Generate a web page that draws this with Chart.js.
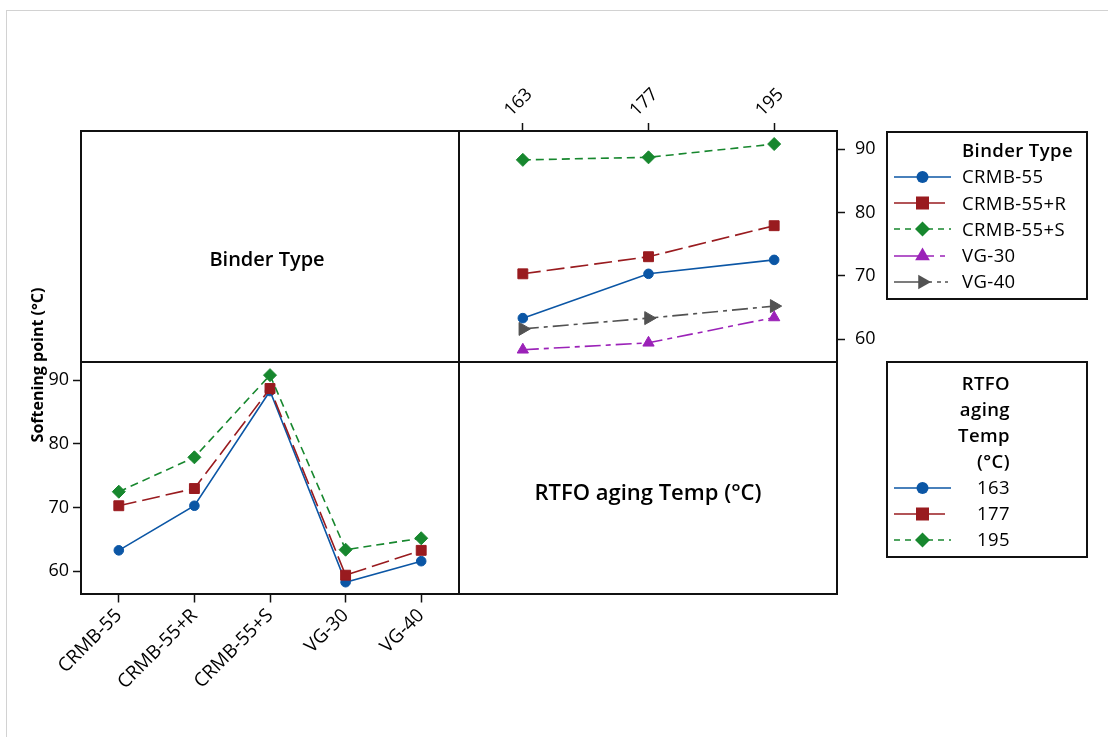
<!DOCTYPE html>
<html lang="en">
<head>
<meta charset="utf-8">
<title>Softening point – interaction plot</title>
<script src="https://cdn.jsdelivr.net/npm/chart.js@4.4.1/dist/chart.umd.min.js"></script>
<style>
  html, body { margin: 0; padding: 0; background: #fff; }
  body { width: 1108px; height: 737px; overflow: hidden; position: relative;
         font-family: "Open Sans", "Noto Sans", sans-serif; color: #000; }
  .abs { position: absolute; box-sizing: border-box; }
  #sheet { left: 6px; top: 10px; width: 1300px; height: 900px; border: 1px solid #d2d2d2; }
  #frame { left: 80px; top: 130px; width: 758px; height: 465px; border: 2px solid #111; }
  #vdiv { left: 458px; top: 130px; width: 2px; height: 465px; background: #111; }
  #hdiv { left: 80px; top: 361px; width: 758px; height: 2px; background: #111; }
  canvas { position: absolute; left: 0; top: 0; }
  .cell { font-weight: 600; white-space: nowrap; text-align: center; }
  #ytitle { left: -63px; top: 357px; width: 200px; height: 16px; line-height: 16px; font-size: 16px;
            font-weight: 700; text-align: center; white-space: nowrap; transform: rotate(-90deg); }
  .legbox { border: 2px solid #111; }
  .legtxt { font-size: 18.5px; line-height: 18px; white-space: nowrap; letter-spacing: 0.4px; }
  .legsvg { position: absolute; }
</style>
</head>
<body>
<div class="abs" id="sheet"></div>
<div class="abs" id="frame"></div>
<div class="abs" id="vdiv"></div>
<div class="abs" id="hdiv"></div>

<canvas id="byTemp" width="1108" height="737"></canvas>
<canvas id="byBinder" width="1108" height="737"></canvas>

<div class="abs cell" style="left:167px; top:249px; width:200px; font-size:20px; line-height:20px;">Binder Type</div>
<div class="abs cell" style="left:498px; top:480px; width:300px; font-size:22px; line-height:22px;">RTFO aging Temp (°C)</div>
<div class="abs" id="ytitle">Softening point (°C)</div>

<div class="abs legbox" style="left:886px; top:131px; width:202px; height:169px;"></div>
<div class="abs legbox" style="left:886px; top:361px; width:202px; height:197px;"></div>
<div id="legends"></div>

<script>
// Binder types (x of the lower-left panel) and RTFO aging temperatures (x of the upper-right panel)
const binderTypes = ['CRMB-55', 'CRMB-55+R', 'CRMB-55+S', 'VG-30', 'VG-40'];
const agingTemps = ['163', '177', '195'];

// Mean softening point (°C) of each binder after RTFO aging at 163 / 177 / 195 °C
const crmb55  = [63.3, 70.3, 72.5];
const crmb55R = [70.3, 73.0, 77.9];
const crmb55S = [88.3, 88.7, 90.8];
const vg30    = [58.3, 59.4, 63.4];
const vg40    = [61.6, 63.3, 65.2];

// Shared response axis
const softeningTicks = [60, 70, 80, 90];
const softeningMin = 56.37;
const softeningMax = 92.86;

const byBinder = [crmb55, crmb55R, crmb55S, vg30, vg40];
const byTemp = agingTemps.map((t, j) => byBinder.map(row => row[j]));

// Line / symbol styles, one per level (temperatures reuse the first three);
// ldash / len describe the short key segment drawn in the legends
const levelStyles = [
  { color: '#0b56a5', dash: [],            ldash: [],              point: 'circle',   rot: 0,  r: 4.8, lr: 6,   len: 57 },
  { color: '#991b1f', dash: [18, 6],       ldash: [],              point: 'rect',     rot: 0,  r: 7,   lr: 6.5, len: 51 },
  { color: '#17872e', dash: [8, 5],        ldash: [6, 5],          point: 'rectRot',  rot: 0,  r: 6.5, lr: 7.5, len: 57 },
  { color: '#9b22b8', dash: [16, 5, 5, 5], ldash: [40, 6, 6],      point: 'triangle', rot: 0,  r: 6.5, lr: 8.5, len: 51 },
  { color: '#525252', dash: [16, 5, 4, 5], ldash: [38, 5, 4, 4, 4], point: 'triangle', rot: 90, r: 7.5, lr: 8.5, len: 54 },
];

const tickFont = { family: 'Open Sans', size: 18 };
const categoryFont = { family: 'Open Sans', size: 19 };
const tickGrid = { drawOnChartArea: false, drawTicks: true, tickLength: 8, tickWidth: 1.5,
                   tickColor: '#111', offset: false };

function lineDataset(label, data, st, order) {
  return {
    label, data, order,
    borderColor: st.color, backgroundColor: st.color,
    borderWidth: 1.6, borderDash: st.dash, tension: 0,
    pointStyle: st.point, pointRotation: st.rot, pointRadius: st.r,
    pointBorderWidth: 1, pointBorderColor: st.color, pointBackgroundColor: st.color,
    clip: false
  };
}

function responseAxis(position, padding, width) {
  return {
    type: 'linear', position, min: softeningMin, max: softeningMax,
    grid: tickGrid, border: { display: false },
    ticks: { font: tickFont, color: '#000', padding },
    afterBuildTicks: s => { s.ticks = softeningTicks.map(v => ({ value: v })); },
    afterFit: s => { s.width = width; }
  };
}

function baseOptions(padding) {
  return {
    responsive: false, animation: false, devicePixelRatio: 1, events: [],
    layout: { padding },
    plugins: { legend: { display: false }, tooltip: { enabled: false } }
  };
}

// Upper-right panel: softening point vs aging temperature, one line per binder
new Chart(document.getElementById('byTemp'), {
  type: 'line',
  data: {
    labels: agingTemps,
    datasets: binderTypes.map((b, i) => lineDataset(b, byBinder[i], levelStyles[i], i))
  },
  options: Object.assign(baseOptions({ left: 460, right: 211, top: 61, bottom: 375 }), {
    scales: {
      x: {
        type: 'category', position: 'top', offset: true,
        grid: tickGrid, border: { display: false },
        ticks: { font: tickFont, color: '#000', minRotation: 45, maxRotation: 45, padding: 2, autoSkip: false },
        afterFit: s => { s.height = 70; }
      },
      y: responseAxis('right', 10, 60)
    }
  })
});

// Lower-left panel: softening point vs binder type, one line per aging temperature
new Chart(document.getElementById('byBinder'), {
  type: 'line',
  data: {
    labels: binderTypes,
    datasets: agingTemps.map((t, j) => lineDataset(t, byTemp[j], levelStyles[j], 3 - j))
  },
  options: Object.assign(baseOptions({ left: 36, right: 649, top: 362, bottom: 32.5 }), {
    scales: {
      x: {
        type: 'category', position: 'bottom', offset: true,
        grid: tickGrid, border: { display: false },
        ticks: { font: categoryFont, color: '#000', minRotation: 45, maxRotation: 45, padding: 2, autoSkip: false },
        afterFit: s => { s.height = 110; }
      },
      y: responseAxis('left', 4, 45)
    }
  })
});

// Legend keys: line segment with the level's symbol
function sampleSvg(st) {
  const w = 62, h = 20, cy = 10, cx = 28.5, R = st.lr;
  let marker;
  if (st.point === 'circle') {
    marker = `<circle cx="${cx}" cy="${cy}" r="${R}"/>`;
  } else if (st.point === 'rect') {
    marker = `<rect x="${cx - R}" y="${cy - R}" width="${2 * R}" height="${2 * R}"/>`;
  } else if (st.point === 'rectRot') {
    marker = `<polygon points="${cx},${cy - R} ${cx + R},${cy} ${cx},${cy + R} ${cx - R},${cy}"/>`;
  } else {
    const pts = [0, 120, 240].map(a => {
      const t = (a + st.rot) * Math.PI / 180;
      return `${(cx + R * Math.sin(t)).toFixed(2)},${(cy - R * Math.cos(t)).toFixed(2)}`;
    }).join(' ');
    marker = `<polygon points="${pts}"/>`;
  }
  const dash = st.ldash.length ? st.ldash.join(' ') : 'none';
  return `<svg width="${w}" height="${h}" viewBox="0 0 ${w} ${h}">` +
         `<line x1="0" y1="${cy}" x2="${st.len}" y2="${cy}" stroke="${st.color}" stroke-width="1.6" stroke-dasharray="${dash}"/>` +
         `<g fill="${st.color}">${marker}</g></svg>`;
}

const legends = document.getElementById('legends');
function addText(text, left, baseline, opts) {
  const d = document.createElement('div');
  d.className = 'abs legtxt';
  d.textContent = text;
  d.style.top = (baseline - 16) + 'px';
  if (opts && opts.rightEdge) {
    d.style.left = (opts.rightEdge - 120) + 'px';
    d.style.width = '120px';
    d.style.textAlign = 'right';
  } else {
    d.style.left = left + 'px';
  }
  if (opts && opts.bold) d.style.fontWeight = '600';
  legends.appendChild(d);
}
function addKey(st, centerY) {
  const wrap = document.createElement('div');
  wrap.className = 'legsvg';
  wrap.style.left = '894px';
  wrap.style.top = (centerY - 10) + 'px';
  wrap.innerHTML = sampleSvg(st);
  legends.appendChild(wrap);
}

addText('Binder Type', 962, 157.3, { bold: true });
binderTypes.forEach((b, i) => {
  const base = 183.3 + 26.2 * i;
  addText(b, 962, base);
  addKey(levelStyles[i], base - 6.4);
});

['RTFO', 'aging', 'Temp', '(°C)'].forEach((line, i) => {
  addText(line, 0, 390 + 25.9 * i, { rightEdge: 1010, bold: true });
});
agingTemps.forEach((t, j) => {
  const base = 493.5 + 26 * j;
  addText(t, 0, base, { rightEdge: 1010 });
  addKey(levelStyles[j], base - 5.5);
});
</script>
</body>
</html>
